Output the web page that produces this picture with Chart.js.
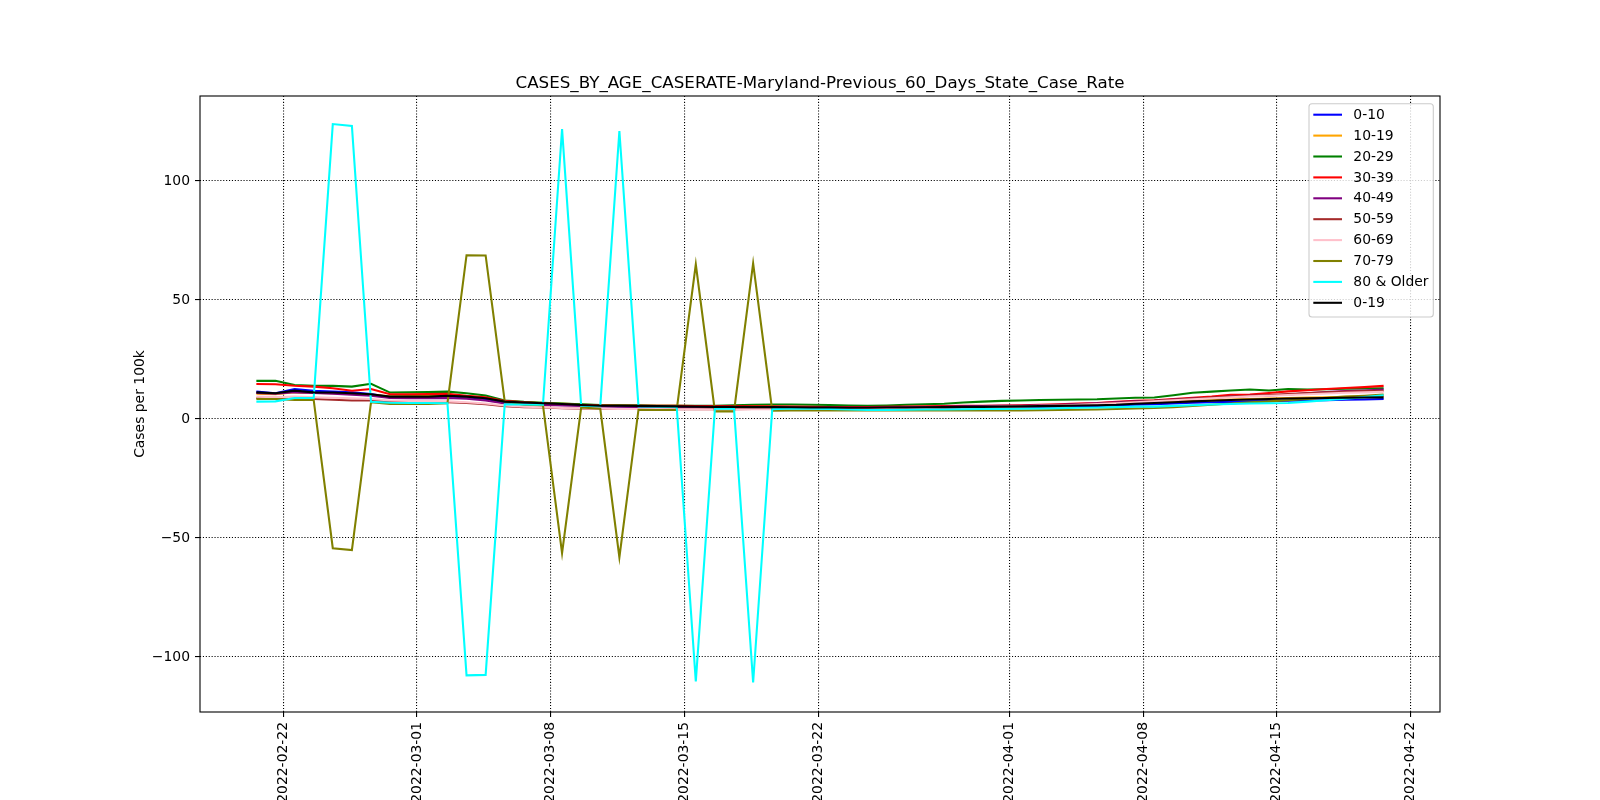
<!DOCTYPE html>
<html>
<head>
<meta charset="utf-8">
<title>CASES_BY_AGE_CASERATE-Maryland</title>
<script src="https://cdn.jsdelivr.net/npm/chart.js@4.4.1/dist/chart.umd.min.js"></script>
<style>
  html, body { margin: 0; padding: 0; background: #fff; }
  #wrap { width: 1600px; height: 800px; }
</style>
</head>
<body>
<div id="wrap"><canvas id="caseChart" width="1600" height="800"></canvas></div>
<script>
// ─── Data (cases per 100k) ─────────────────────────────────────
const DATES = [
  '2022-02-20', '2022-02-21', '2022-02-22', '2022-02-23', '2022-02-24', '2022-02-25', '2022-02-26', '2022-02-27', '2022-02-28', '2022-03-01',
  '2022-03-02', '2022-03-03', '2022-03-04', '2022-03-05', '2022-03-06', '2022-03-07', '2022-03-08', '2022-03-09', '2022-03-10', '2022-03-11',
  '2022-03-12', '2022-03-13', '2022-03-14', '2022-03-15', '2022-03-16', '2022-03-17', '2022-03-18', '2022-03-19', '2022-03-20', '2022-03-21',
  '2022-03-22', '2022-03-23', '2022-03-24', '2022-03-25', '2022-03-26', '2022-03-27', '2022-03-28', '2022-03-29', '2022-03-30', '2022-03-31',
  '2022-04-01', '2022-04-02', '2022-04-03', '2022-04-04', '2022-04-05', '2022-04-06', '2022-04-07', '2022-04-08', '2022-04-09', '2022-04-10',
  '2022-04-11', '2022-04-12', '2022-04-13', '2022-04-14', '2022-04-15', '2022-04-16', '2022-04-17', '2022-04-18', '2022-04-19', '2022-04-20',
];

const AGE_0_10 = [
  11.5, 10.8, 12.6, 11.8, 11.5, 11.2, 10.5, 9.1, 9.1, 9.2,
  9.5, 9.1, 8.4, 7.1, 6.7, 6.4, 6.1, 5.8, 5.5, 5.4,
  5.3, 5.2, 5.2, 5.1, 5.0, 5.0, 4.9, 4.9, 4.8, 4.7,
  4.7, 4.6, 4.6, 4.6, 4.7, 4.7, 4.8, 4.9, 5.0, 5.0,
  5.1, 5.2, 5.3, 5.4, 5.5, 5.7, 6.0, 6.2, 6.5, 6.8,
  7.0, 7.2, 7.4, 7.5, 7.7, 7.8, 7.9, 8.1, 8.2, 8.4,
];
const AGE_10_19 = [
  10.6, 10.4, 11.2, 10.9, 10.8, 10.5, 10.2, 9.5, 9.6, 9.6,
  9.9, 9.5, 8.9, 7.5, 7.0, 6.7, 6.5, 6.1, 5.8, 5.8,
  5.7, 5.6, 5.5, 5.4, 5.3, 5.3, 5.2, 5.1, 5.0, 4.9,
  4.9, 4.8, 4.8, 4.9, 4.9, 5.0, 5.1, 5.2, 5.2, 5.3,
  5.4, 5.5, 5.6, 5.9, 6.0, 6.3, 6.7, 7.0, 7.3, 7.6,
  7.9, 8.2, 8.4, 8.6, 8.8, 9.0, 9.1, 9.3, 9.4, 9.6,
];
const AGE_20_29 = [
  16.0, 16.1, 14.3, 14.0, 13.9, 13.6, 14.8, 11.1, 11.2, 11.3,
  11.5, 10.8, 9.9, 7.8, 7.2, 6.8, 6.5, 6.2, 5.9, 5.8,
  5.7, 5.6, 5.6, 5.5, 5.6, 5.8, 6.0, 6.1, 6.1, 6.0,
  5.9, 5.7, 5.5, 5.7, 6.0, 6.2, 6.4, 6.9, 7.3, 7.6,
  7.8, 8.0, 8.1, 8.2, 8.3, 8.6, 8.9, 9.0, 10.0, 11.0,
  11.5, 12.0, 12.4, 12.0, 12.6, 12.4, 12.5, 12.7, 12.8, 12.9,
];
const AGE_30_39 = [
  14.7, 14.6, 14.0, 13.6, 12.9, 11.9, 12.6, 10.4, 10.4, 10.5,
  10.6, 9.7, 9.1, 7.6, 7.0, 6.6, 6.2, 5.9, 5.7, 5.6,
  5.6, 5.5, 5.5, 5.4, 5.4, 5.4, 5.3, 5.3, 5.2, 5.1,
  5.0, 5.0, 5.0, 5.1, 5.2, 5.3, 5.4, 5.5, 5.6, 5.7,
  5.8, 6.0, 6.2, 6.5, 6.7, 7.2, 7.7, 7.9, 8.4, 8.9,
  9.4, 10.2, 10.3, 10.9, 11.6, 12.1, 12.6, 13.0, 13.4, 13.9,
];
const AGE_40_49 = [
  10.9, 10.6, 11.2, 10.9, 10.6, 10.2, 9.8, 8.8, 8.7, 8.7,
  8.8, 8.5, 7.8, 6.5, 6.2, 5.9, 5.7, 5.5, 5.3, 5.2,
  5.1, 5.0, 5.0, 4.9, 4.9, 4.8, 4.8, 4.8, 4.7, 4.7,
  4.7, 4.7, 4.7, 4.8, 4.9, 5.0, 5.1, 5.3, 5.4, 5.5,
  5.6, 5.8, 6.0, 6.3, 6.6, 7.0, 7.4, 7.7, 8.2, 8.6,
  8.9, 9.4, 9.7, 9.9, 10.3, 10.8, 11.3, 11.7, 12.0, 12.4,
];
const AGE_50_59 = [
  8.8, 8.6, 8.6, 8.4, 8.1, 7.8, 7.9, 7.3, 7.2, 7.2,
  7.0, 6.7, 6.2, 5.4, 5.0, 4.8, 4.5, 4.3, 4.2, 4.2,
  4.2, 4.1, 4.1, 4.1, 4.1, 4.1, 4.2, 4.2, 4.2, 4.2,
  4.2, 4.3, 4.3, 4.4, 4.5, 4.6, 4.8, 4.9, 5.1, 5.2,
  5.4, 5.6, 5.8, 6.1, 6.4, 6.8, 7.2, 7.6, 8.1, 8.6,
  9.0, 9.4, 9.8, 10.1, 10.5, 10.9, 11.2, 11.5, 11.7, 11.9,
];
const AGE_60_69 = [
  9.4, 9.2, 9.4, 9.1, 8.9, 8.7, 8.4, 7.8, 7.6, 7.5,
  7.4, 7.0, 6.5, 5.7, 5.2, 4.9, 4.6, 4.4, 4.3, 4.2,
  4.2, 4.2, 4.1, 4.1, 4.0, 4.0, 4.1, 4.1, 4.1, 4.1,
  4.2, 4.2, 4.3, 4.4, 4.5, 4.6, 4.7, 4.9, 5.0, 5.2,
  5.3, 5.5, 5.7, 6.0, 6.3, 6.6, 7.0, 7.4, 7.9, 8.3,
  8.7, 9.1, 9.5, 9.8, 10.1, 10.4, 10.7, 11.0, 11.2, 11.4,
];
const AGE_70_79 = [
  8.4, 8.4, 8.0, 8.0, -54.3, -55.1, 7.0, 6.3, 6.3, 6.3,
  6.6, 68.8, 68.7, 7.3, 6.0, 5.8, -56.4, 4.8, 4.3, -58.1,
  3.9, 3.8, 3.8, 65.0, 3.2, 3.2, 65.4, 3.5, 3.6, 3.6,
  3.6, 3.6, 3.6, 3.6, 3.6, 3.6, 3.6, 3.6, 3.6, 3.6,
  3.6, 3.7, 3.8, 3.9, 4.0, 4.2, 4.4, 4.6, 5.0, 5.5,
  6.0, 6.5, 7.0, 7.4, 7.9, 8.4, 8.9, 9.4, 9.8, 10.3,
];
const AGE_80_PLUS = [
  7.3, 7.4, 8.8, 8.8, 123.9, 123.1, 7.2, 6.8, 6.7, 6.7,
  6.6, -107.7, -107.5, 6.2, 6.1, 6.0, 121.8, 5.6, 5.4, 121.0,
  5.3, 5.2, 5.1, -110.3, 4.3, 4.3, -110.7, 4.1, 4.4, 4.3,
  4.2, 4.0, 3.8, 3.8, 3.9, 4.0, 4.0, 4.1, 4.2, 4.2,
  4.3, 4.4, 4.5, 4.7, 4.8, 5.0, 5.2, 5.2, 5.5, 5.8,
  6.1, 6.3, 6.5, 6.6, 6.7, 7.3, 7.9, 8.5, 9.2, 10.0,
];
const AGE_0_19 = [
  11.2, 10.8, 11.9, 11.2, 11.1, 10.8, 10.4, 9.4, 9.4, 9.4,
  9.8, 9.4, 8.7, 7.3, 6.9, 6.6, 6.3, 5.9, 5.6, 5.6,
  5.5, 5.4, 5.3, 5.2, 5.1, 5.1, 5.0, 5.0, 4.9, 4.8,
  4.8, 4.7, 4.7, 4.8, 4.8, 4.9, 5.0, 5.1, 5.1, 5.2,
  5.3, 5.4, 5.5, 5.7, 5.8, 6.0, 6.4, 6.7, 7.0, 7.4,
  7.7, 8.0, 8.2, 8.4, 8.6, 8.7, 8.8, 8.9, 9.0, 9.1,
];

const SERIES_LABELS = ['0-10', '10-19', '20-29', '30-39', '40-49', '50-59', '60-69', '70-79', '80 & Older', '0-19'];
const SERIES_VALUES = [AGE_0_10, AGE_10_19, AGE_20_29, AGE_30_39, AGE_40_49, AGE_50_59, AGE_60_69, AGE_70_79, AGE_80_PLUS, AGE_0_19];
const SERIES_COLORS = ['#0000ff', '#ffa500', '#008000', '#ff0000', '#800080', '#a52a2a', '#ffc0cb', '#808000', '#00ffff', '#000000'];

const X_TICK_DATES = ['2022-02-22', '2022-03-01', '2022-03-08', '2022-03-15', '2022-03-22', '2022-04-01', '2022-04-08', '2022-04-15', '2022-04-22'];
const Y_TICKS = [-100, -50, 0, 50, 100];

// ─── Layout / style ───────────────────────────────────────────
const FONT = "'DejaVu Sans', 'Liberation Sans', sans-serif";
const PLOT = { left: 200, right: 1440, top: 96, bottom: 712 };
const REPORT_OFFSET = 0.59;          // the points sit a little after midnight of each day
const X_MIN = -2.36, X_MAX = 62.54;  // days since 2022-02-20
const Y_MIN = -123.1, Y_MAX = 135.7;

// jours depuis le 2022-02-20
function dayIndex(dateStr) {
  const [y, m, d] = dateStr.split('-').map(Number);
  return (Date.UTC(y, m - 1, d) - Date.UTC(2022, 1, 20)) / 86400000;
}

const datasets = SERIES_LABELS.map((label, k) => ({
  label: label,
  data: DATES.map((d, i) => ({ x: dayIndex(d) + REPORT_OFFSET, y: SERIES_VALUES[k][i] })),
  borderColor: SERIES_COLORS[k],
  backgroundColor: SERIES_COLORS[k],
  borderWidth: 2.08,
  pointRadius: 0,
  tension: 0,
  fill: false,
  order: SERIES_LABELS.length - k, // la derniere serie dessinee par-dessus (comme matplotlib)
}));

// Titre, libelle Y, cadre et legende dessines a la main
const decorPlugin = {
  id: 'decor',
  afterDatasetsDraw(chart) {
    const ctx = chart.ctx;
    const a = chart.chartArea;
    ctx.save();
    // cadre
    ctx.strokeStyle = '#000';
    ctx.lineWidth = 1.1;
    ctx.strokeRect(a.left, a.top, a.right - a.left, a.bottom - a.top);

    // titre
    ctx.fillStyle = '#000';
    ctx.font = '16.7px ' + FONT;
    ctx.textAlign = 'center';
    ctx.textBaseline = 'alphabetic';
    ctx.fillText('CASES_BY_AGE_CASERATE-Maryland-Previous_60_Days_State_Case_Rate', (a.left + a.right) / 2, a.top - 8.3);

    // libelle axe Y
    ctx.save();
    ctx.translate(140, (a.top + a.bottom) / 2);
    ctx.rotate(-Math.PI / 2);
    ctx.font = '13.9px ' + FONT;
    ctx.textBaseline = 'middle';
    ctx.fillText('Cases per 100k', 0, 0);
    ctx.restore();

    // legende
    const bx = 1309, by = 103.7, bw = 124.3, bh = 213.3, r = 3;
    ctx.beginPath();
    ctx.moveTo(bx + r, by);
    ctx.arcTo(bx + bw, by, bx + bw, by + bh, r);
    ctx.arcTo(bx + bw, by + bh, bx, by + bh, r);
    ctx.arcTo(bx, by + bh, bx, by, r);
    ctx.arcTo(bx, by, bx + bw, by, r);
    ctx.closePath();
    ctx.fillStyle = 'rgba(255,255,255,0.8)';
    ctx.fill();
    ctx.strokeStyle = '#cccccc';
    ctx.lineWidth = 1.1;
    ctx.stroke();

    ctx.font = '13.9px ' + FONT;
    ctx.textAlign = 'left';
    ctx.textBaseline = 'middle';
    SERIES_LABELS.forEach((label, k) => {
      const y = 114.7 + 20.9 * k;
      ctx.strokeStyle = SERIES_COLORS[k];
      ctx.lineWidth = 2.08;
      ctx.beginPath();
      ctx.moveTo(1313.3, y);
      ctx.lineTo(1342, y);
      ctx.stroke();
      ctx.fillStyle = '#000';
      ctx.fillText(label, 1353.3, y + 0.5);
    });
    ctx.restore();
  },
};

const gridStyle = {
  color: '#000',
  lineWidth: 1.1,
  drawTicks: true,
  tickLength: 5,
  tickWidth: 1.1,
  tickColor: '#000',
};

new Chart(document.getElementById('caseChart'), {
  type: 'line',
  data: { datasets: datasets },
  options: {
    responsive: false,
    devicePixelRatio: 1,
    animation: false,
    layout: { padding: { top: PLOT.top, right: 1600 - PLOT.right, left: 0, bottom: 0 } },
    plugins: {
      legend: { display: false },
      title: { display: false },
      tooltip: { enabled: false },
    },
    scales: {
      x: {
        type: 'linear',
        min: X_MIN,
        max: X_MAX,
        grid: gridStyle,
        border: { display: false, dash: [1.1, 1.8] },
        afterBuildTicks: (scale) => { scale.ticks = X_TICK_DATES.map(d => ({ value: dayIndex(d) })); },
        afterFit: (scale) => { scale.height = 800 - PLOT.bottom; },
        ticks: {
          autoSkip: false,
          minRotation: 90,
          maxRotation: 90,
          padding: 5,
          color: '#000',
          font: { family: FONT, size: 13.9 },
          callback: (value, index) => X_TICK_DATES[index],
        },
      },
      y: {
        type: 'linear',
        min: Y_MIN,
        max: Y_MAX,
        grid: gridStyle,
        border: { display: false, dash: [1.1, 1.8] },
        afterBuildTicks: (scale) => { scale.ticks = Y_TICKS.map(v => ({ value: v })); },
        afterFit: (scale) => { scale.width = PLOT.left; },
        ticks: {
          padding: 5,
          color: '#000',
          font: { family: FONT, size: 13.9 },
          callback: (value) => (value < 0 ? '\u2212' + Math.abs(value) : String(value)),
        },
      },
    },
  },
  plugins: [decorPlugin],
});
</script>
</body>
</html>
